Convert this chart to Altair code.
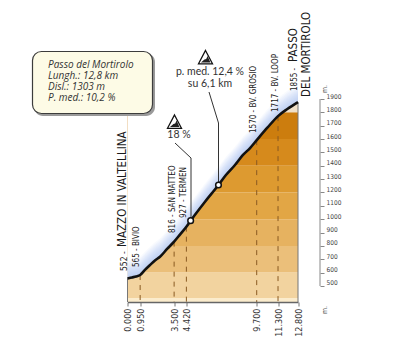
import altair as alt
import pandas as pd

# profile
km = [0, .34, .64, .95, 1.31, 1.69, 2.06, 2.44, 2.97, 3.5, 3.94, 4.42, 4.74, 5.82, 6.83, 7.39, 8.07, 8.67, 9.2, 9.7, 10.5, 11.3, 12.0, 12.8]
elev = [556, 564, 571, 582, 620, 657, 691, 719, 777, 832, 885, 944, 989, 1131, 1256, 1331, 1406, 1481, 1533, 1592, 1685, 1772, 1825, 1877]
glow_offsets = [10, 20, 30, 40, 50, 60, 70, 80, 90, 100, 112, 124, 136]

band_lo = [380, 410, 600, 800, 1000, 1200, 1400, 1600, 1800]
band_hi = [410, 600, 800, 1000, 1200, 1400, 1600, 1800, 1900]
band_col = ["#fbeccd", "#f2d39f", "#ebbf7a", "#e6b260", "#e2a645", "#dd9a30", "#d68a1c", "#cc7d0e", "#f0e0c8"]

dash_km = [.95, 3.5, 4.42, 9.7, 11.3]
dash_elev = [582, 832, 944, 1592, 1772]
marker_km = [4.74, 6.83]
marker_elev = [989, 1256]

xticks = [0, .95, 3.5, 4.42, 9.7, 11.3, 12.8]
yticks = list(range(500, 2000, 100))

info = ["Passo del Mortirolo", "Lungh.: 12,8 km", "Disl.: 1303 m", "P. med.: 10,2 %"]
info_y = [65, 76, 87, 98]

NARROW = "DejaVu Sans Condensed"
rot = [
    ("552 -", 124, 271, 8.5),
    ("MAZZO IN VALTELLINA", 123, 247, 11.5),
    ("565 - BIVIO", 137, 267, 8),
    ("816 - SAN MATTEO", 173, 233, 8),
    ("927 - TERMEN", 184, 218, 8),
    ("1570 - BV. GROSIO", 254, 133, 8),
    ("1717 - BV. LOOP", 276, 112, 8),
    ("1855 -", 295, 91, 8),
    ("PASSO", 294, 62, 11.5),
    ("DEL MORTIROLO", 307, 97, 11.5),
]
flat = [
    ("18 %", 179, 135, 10.5),
    ("p. med. 12,4 %", 210, 72, 10.5),
    ("su 6,1 km", 210, 84, 10.5),
]
leaders = [
    (175, 143, 191, 158), (191, 158, 191, 220),
    (209, 92, 218.5, 123), (218.5, 123, 218.5, 185),
]
icons = [(174.5, 122), (205.5, 57.5)]

L, T = 127.5, 99.0  # page position of the plot's corner
W, H = 170.5, 203
PX = lambda v: alt.value(v - L)
PY = lambda v: alt.value(v - T)

prof = pd.DataFrame({"km": km, "elev": elev})
xs = alt.Scale(domain=[0, 12.8])
ys = alt.Scale(domain=[380, 1900])
x_axis = alt.Axis(values=xticks, format=".3f", labelAngle=-90, labelAlign="right", labelBaseline="middle",
                  labelFont=NARROW, labelFontSize=9, labelColor="#333", labelPadding=2,
                  tickSize=4, tickColor="#777", domainColor="#666", domainWidth=1.5, grid=False, labelOverlap=False, zindex=1)
y_axis = alt.Axis(orient="right", values=yticks, offset=22, domain=False, tickSize=4, tickColor="#888",
                  labelFont=NARROW, labelFontSize=6.5, labelColor="#444", labelOffset=-3,
                  labelPadding=2, grid=False, format="d", labelOverlap=False)
X = alt.X("km:Q", scale=xs, title=None, axis=x_axis)
Y = alt.Y("elev:Q", scale=ys, title=None, axis=y_axis)

layers = []
bands = pd.DataFrame({"lo": band_lo, "hi": band_hi, "c": band_col, "a": 0.0, "b": 12.8})
layers.append(alt.Chart(bands).mark_rect().encode(
    x=alt.X("a:Q", scale=xs, title=None, axis=x_axis), x2="b:Q",
    y=alt.Y("lo:Q", scale=ys, title=None, axis=y_axis), y2="hi:Q",
    color=alt.Color("c:N", scale=None)))

# white sky above the profile
layers.append(alt.Chart(prof.assign(t=1900)).mark_area(color="white").encode(x=X, y=Y, y2="t:Q"))
# blue halo
for o in glow_offsets:
    layers.append(alt.Chart(prof.assign(t=[e + o for e in elev])).mark_area(color="#9dbdee", opacity=0.075).encode(
        x=X, y=Y, y2="t:Q"))

# dashed drop lines
d = pd.DataFrame({"km": dash_km, "elev": dash_elev, "b": 380})
layers.append(alt.Chart(d).mark_rule(color="#8a5a22", strokeDash=[5, 5], strokeWidth=1).encode(x=X, y=Y, y2="b:Q"))
# side edges
e = pd.DataFrame({"km": [0, 12.8], "elev": [556, 1877], "b": 380})
layers.append(alt.Chart(e).mark_rule(color="#777", strokeWidth=1).encode(x=X, y=Y, y2="b:Q"))

layers.append(alt.Chart(prof).mark_line(color="#111", strokeWidth=2.6, strokeCap="butt", interpolate="monotone").encode(x=X, y=Y))

# value axis line
layers.append(alt.Chart(pd.DataFrame({"a": [500], "b": [1900]})).mark_rule(color="#888", strokeWidth=1).encode(
    x=alt.value(320 - L), y=alt.Y("a:Q", scale=ys, title=None, axis=y_axis), y2="b:Q"))

# leaders
for x1, y1, x2, y2 in leaders:
    layers.append(alt.Chart(pd.DataFrame({"i": [0]})).mark_rule(color="#333", strokeWidth=1).encode(
        x=PX(x1), x2=PX(x2), y=PY(y1), y2=PY(y2)))

# climb markers
m = pd.DataFrame({"km": marker_km, "elev": marker_elev})
layers.append(alt.Chart(m).mark_point(filled=True, fill="white", stroke="#111", strokeWidth=1.5, size=32, opacity=1).encode(x=X, y=Y))

# info box
layers.append(alt.Chart(pd.DataFrame({"i": [0]})).mark_rect(fill="#9a9a9a", cornerRadius=9).encode(
    x=PX(34), x2=PX(155), y=PY(53), y2=PY(116)))
layers.append(alt.Chart(pd.DataFrame({"i": [0]})).mark_rect(fill="#fdfbe6", stroke="#3c3c3c", strokeWidth=1.2, cornerRadius=9).encode(
    x=PX(32.5), x2=PX(152.5), y=PY(51.5), y2=PY(113.5)))
for s, y in zip(info, info_y):
    layers.append(alt.Chart(pd.DataFrame({"t": [s]})).mark_text(
        font="Open Sans", fontStyle="italic", fontSize=10, color="#333", align="left", baseline="middle").encode(
        x=PX(48), y=PY(y), text="t:N"))

for s, x, y, sz in rot:
    layers.append(alt.Chart(pd.DataFrame({"t": [s]})).mark_text(
        font=NARROW, fontSize=sz, color="#1a1a1a", angle=270, align="left", baseline="middle").encode(
        x=PX(x), y=PY(y), text="t:N"))
for s, x, y, sz in flat:
    layers.append(alt.Chart(pd.DataFrame({"t": [s]})).mark_text(
        font="Lato", fontSize=sz, color="#333", align="center", baseline="middle").encode(
        x=PX(x), y=PY(y), text="t:N"))
for t, x, y in [("m.", 325, 89), ("m.", 325, 310)]:
    layers.append(alt.Chart(pd.DataFrame({"t": [t]})).mark_text(
        font=NARROW, fontSize=7, color="#555", angle=270, align="center", baseline="middle").encode(
        x=PX(x), y=PY(y), text="t:N"))

# gradient icons
for x, y in icons:
    layers.append(alt.Chart(pd.DataFrame({"i": [0]})).mark_point(
        shape="M0,-1L1,0.9L-1,0.9Z", filled=True, fill="white", stroke="#111", strokeWidth=1.3, size=196, opacity=1).encode(
        x=PX(x), y=PY(y)))
    layers.append(alt.Chart(pd.DataFrame({"i": [0]})).mark_point(
        shape="M-0.65,0.7L-0.15,0.3L0.1,0.2L0.3,-0.2L0.7,0.7Z", filled=True, fill="#222", size=196, opacity=1).encode(
        x=PX(x), y=PY(y)))

chart = alt.layer(*layers).properties(
    width=W, height=H,
    padding={"left": L - 8, "top": T - 8, "right": 384 - (L - 8) - W, "bottom": 336 - (T - 8) - H},
    autosize=alt.AutoSizeParams(type="none"),
    background="white",
).configure_view(stroke=None)

chart.save("out.html", embed_options={"renderer": "svg", "actions": False})
